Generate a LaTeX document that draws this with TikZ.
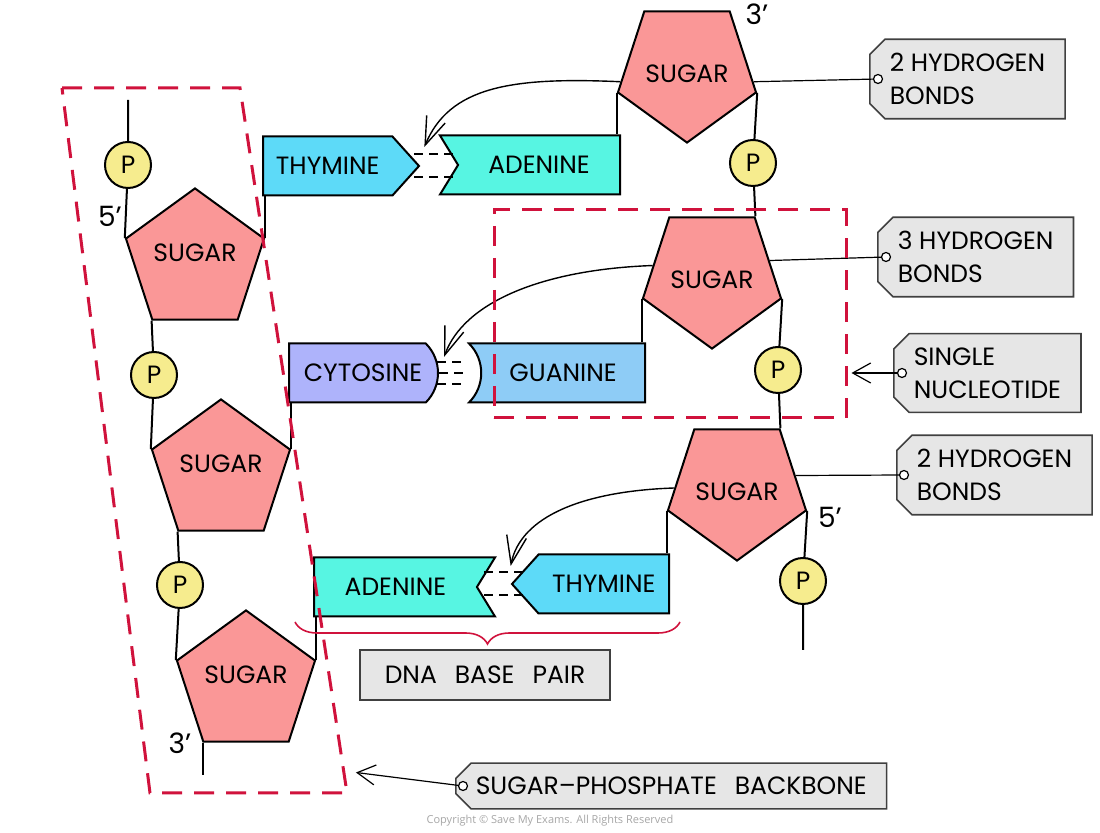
\documentclass[tikz,border=0pt]{standalone}
\usepackage{fontspec}
\setmainfont{Poppins}
\newfontfamily\copyfont{Open Sans}
\usetikzlibrary{shapes.geometric, shapes.symbols, shapes.misc, arrows.meta, positioning, decorations.pathreplacing, calc}
\definecolor{sugarpink}{HTML}{FA9797}
\definecolor{phosyellow}{HTML}{F6EC8E}
\definecolor{thymineblue}{HTML}{5DDAF8}
\definecolor{adenineteal}{HTML}{57F5E2}
\definecolor{cytosinelilac}{HTML}{AEB3FB}
\definecolor{guanineblue}{HTML}{8ECCF6}
\definecolor{taggrey}{HTML}{E6E6E6}
\definecolor{backbonered}{HTML}{D0123C}

\begin{document}
\begin{tikzpicture}[x=0.5pt, y=-0.5pt, font=\fontsize{12.5}{16.5}\selectfont,
  strand/.style={line width=1pt},
  sugarup/.style={regular polygon, regular polygon sides=5, minimum size=70pt, inner sep=0pt, draw, line width=1pt, fill=sugarpink, text depth=8pt},
  sugardown/.style={regular polygon, regular polygon sides=5, minimum size=69pt, inner sep=0pt, draw, line width=1pt, fill=sugarpink, shape border rotate=180, text height=12.5pt},
  phos/.style={circle, minimum size=23pt, inner sep=0pt, draw, line width=1pt, fill=phosyellow},
  basebox/.style={draw, line width=1pt, minimum height=29.5pt, inner sep=2pt},
  thyminebox/.style={basebox, signal, signal pointer angle=96, signal from=nowhere, fill=thymineblue},
  adeninebox/.style={basebox, signal, signal pointer angle=117, signal to=nowhere, fill=adenineteal},
  cytosinebox/.style={basebox, rounded rectangle, rounded rectangle arc length=90, rounded rectangle west arc=none, rounded rectangle east arc=convex, fill=cytosinelilac},
  guaninebox/.style={basebox, rounded rectangle, rounded rectangle arc length=90, rounded rectangle west arc=concave, rounded rectangle east arc=none, fill=guanineblue},
  hbond/.style={dash pattern=on 4.5pt off 3pt, line width=0.8pt},
  bondarrow/.style={line width=0.7pt, -{Straight Barb[length=14pt, width=10pt]}},
  tag/.style={chamfered rectangle, chamfered rectangle corners={north west, south west}, chamfered rectangle xsep=4pt, draw=black!75, line width=0.8pt, fill=taggrey, align=left, minimum height=37pt, inner xsep=6pt},
  tagdot/.style={circle, draw, line width=0.6pt, fill=white, inner sep=0pt, minimum size=4.5pt},
  tagline/.style={line width=0.6pt},
  pointer/.style={line width=0.6pt, shorten >=2pt, -{Straight Barb[length=9pt, width=10pt]}},
  regionbox/.style={draw=backbonered, line width=1.5pt, dash pattern=on 10pt off 6pt},
  pairbrace/.style={draw=backbonered, line width=0.8pt, decorate, decoration={brace, amplitude=11pt, mirror}}
]
\useasboundingbox (0,0) rectangle (1100,833);

% left strand
\node[sugarup] (sugarL1) at (195,261) {SUGAR};
\node[sugarup] (sugarL2) at (221,472) {SUGAR};
\node[sugarup] (sugarL3) at (246,683) {SUGAR};
\node[phos] (pL1) at (128,165) {P};
\node[phos] (pL2) at (154,375) {P};
\node[phos] (pL3) at (180,585) {P};
\coordinate (topL) at (128,100);
\coordinate (endL) at (205,775);
\draw[strand] (topL) -- (pL1) -- (sugarL1.corner 2);
\draw[strand] (sugarL1.corner 3) -- (pL2) -- (sugarL2.corner 2);
\draw[strand] (sugarL2.corner 3) -- (pL3) -- (sugarL3.corner 2);
\draw[strand] (sugarL3.corner 3) -- (sugarL3.corner 3 |- endL);

% right strand
\node[sugardown] (sugarR1) at (687,70) {SUGAR};
\node[sugardown] (sugarR2) at (712,276) {SUGAR};
\node[sugardown] (sugarR3) at (737,488) {SUGAR};
\node[phos] (pR1) at (753,163) {P};
\node[phos] (pR2) at (778,370) {P};
\node[phos] (pR3) at (803,581) {P};
\coordinate (endR) at (803,650);
\draw[strand] (sugarR1.corner 2) -- (pR1) -- (sugarR2.corner 3);
\draw[strand] (sugarR2.corner 2) -- (pR2) -- (sugarR3.corner 3);
\draw[strand] (sugarR3.corner 2) -- (pR3) -- (endR);

\node (fiveL) at (110,216) {\fontsize{14}{16}\selectfont 5’};
\node (threeL) at (180,743) {\fontsize{14}{16}\selectfont 3’};
\node (threeR) at (757,14) {\fontsize{14}{16}\selectfont 3’};
\node (fiveR) at (830,517) {\fontsize{14}{16}\selectfont 5’};

% base pairs
\node[thyminebox, signal to=east, anchor=west, minimum width=78pt] (thyT) at (262,166) {THYMINE};
\node[adeninebox, signal from=west, anchor=east, minimum width=90pt] (adeT) at (621,165) {ADENINE};
\node[cytosinebox, anchor=west, minimum width=78.5pt] (cyt) at (288,373) {CYTOSINE};
\node[guaninebox, anchor=east, minimum width=92pt] (gua) at (646,373) {GUANINE};
\node[adeninebox, signal from=east, anchor=west, minimum width=90.5pt] (adeB) at (313,587) {ADENINE};
\node[thyminebox, signal to=west, anchor=east, minimum width=78.5pt] (thyB) at (670,584) {THYMINE};

\draw[strand] (sugarL1.corner 5) -- (sugarL1.corner 5 |- thyT.south);
\draw[strand] (sugarL2.corner 5) -- (sugarL2.corner 5 |- cyt.south);
\draw[strand] (sugarL3.corner 5) -- (sugarL3.corner 5 |- adeB.south);
\draw[strand] (sugarR1.corner 5) -- (sugarR1.corner 5 |- adeT.north);
\draw[strand] (sugarR2.corner 5) -- (sugarR2.corner 5 |- gua.north);
\draw[strand] (sugarR3.corner 5) -- (sugarR3.corner 5 |- thyB.north);

% hydrogen bonds
\draw[hbond] (thyT.east) ++(-6,-12) -- ++(40,0) (thyT.east) ++(-6,11) -- ++(40,0);
\draw[hbond] (cyt.east) ++(-2,-11) -- ++(27,0) (cyt.east) ++(0,0) -- ++(25,0) (cyt.east) ++(-2,11) -- ++(27,0);
\draw[hbond] (thyB.west) ++(12,-12) -- ++(-40,0) (thyB.west) ++(12,11) -- ++(-40,0);
\draw[bondarrow] (sugarR1.190) .. controls +(-110,-5) and +(25,-60) .. ($(thyT.east)+(4,-19)$);
\draw[bondarrow] (sugarR2.170) .. controls +(-110,4) and +(20,-55) .. ($(cyt.east)+(5,-16)$);
\draw[bondarrow] (sugarR3.180) .. controls +(-90,3) and +(10,-50) .. ($(thyB.west)+(0,-18)$);

% labels
\node[tag, anchor=west] (tagHA) at (869,79) {2 HYDROGEN\\BONDS};
\node[tag, anchor=west] (tagHB) at (877,257) {3 HYDROGEN\\BONDS};
\node[tag, anchor=west] (tagNuc) at (893,373) {SINGLE\\NUCLEOTIDE};
\node[tag, anchor=west] (tagHC) at (896,475) {2 HYDROGEN\\BONDS};
\node[tag, anchor=west, minimum height=20pt] (tagBB) at (455,786) {SUGAR\textendash PHOSPHATE\hspace{9pt}BACKBONE};
\node[draw=black!75, line width=0.8pt, fill=taggrey, minimum width=125pt, minimum height=25pt] (tagPair) at (485,675) {DNA\hspace{9pt}BASE\hspace{9pt}PAIR};
\node[tagdot] (dotHA) at ($(tagHA.west)+(9,0)$) {};
\node[tagdot] (dotHB) at ($(tagHB.west)+(9,0)$) {};
\node[tagdot] (dotNuc) at ($(tagNuc.west)+(9,0)$) {};
\node[tagdot] (dotHC) at ($(tagHC.west)+(8,0)$) {};
\node[tagdot] (dotBB) at ($(tagBB.west)+(8,0)$) {};
\draw[tagline] (sugarR1.-10) -- (dotHA);
\draw[tagline] (sugarR2.15) -- (dotHB);
\draw[tagline] (sugarR3.12) -- (dotHC);

% red outlines
\node[regionbox, minimum width=176pt, minimum height=104pt, inner sep=0pt] (nucbox) at (670,314) {};
\draw[regionbox] (62,88) -- (240,88) -- (347,793) -- (150,793) -- cycle;
\coordinate (bbtip) at (352,772);
\draw[pointer] (dotNuc) -- (nucbox.east |- dotNuc);
\draw[pointer] (dotBB) -- (bbtip);
\draw[pairbrace] (295,622) -- (680,622);

\node[text=black!35] (copy) at (550,821) {\copyfont\fontsize{5.5}{6}\selectfont Copyright © Save My Exams. All Rights Reserved};
\end{tikzpicture}
\end{document}
